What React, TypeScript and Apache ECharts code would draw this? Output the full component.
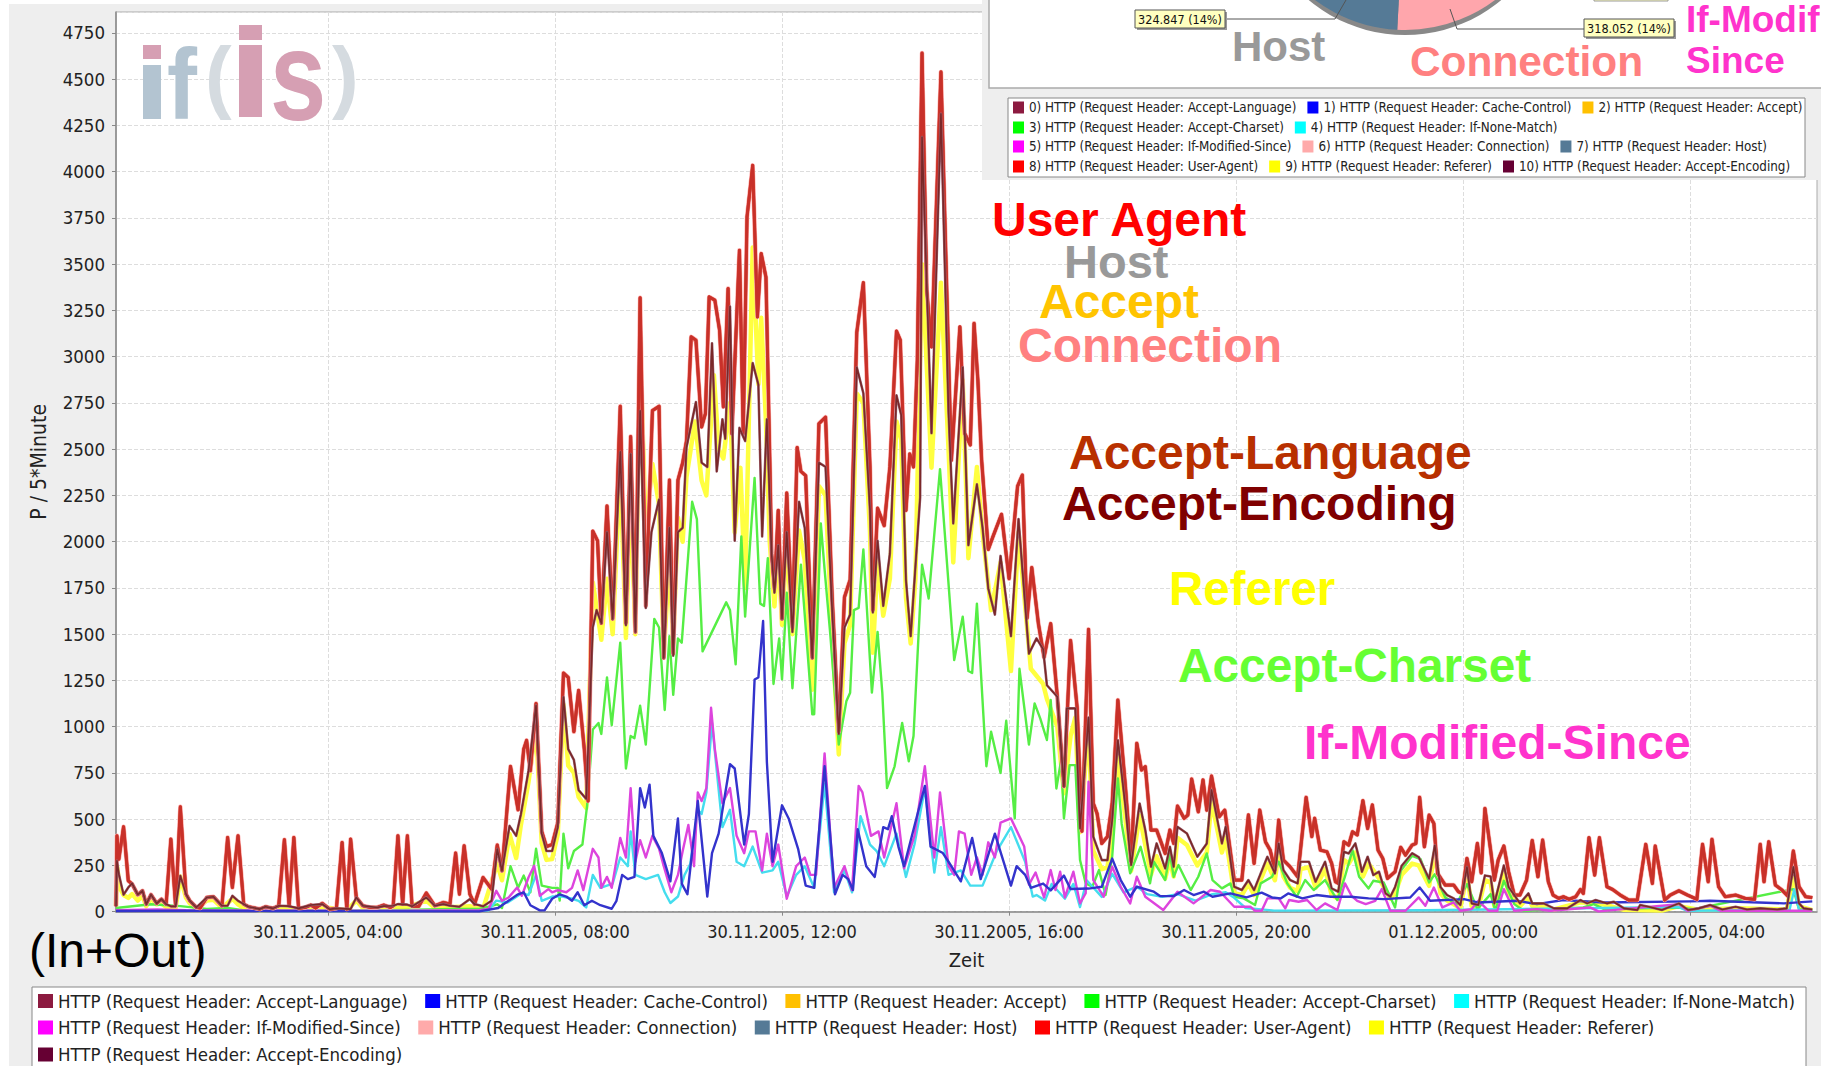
import React, { useEffect, useRef } from "react";
import * as echarts from "echarts";

const FONT = '"DejaVu Sans Condensed", "DejaVu Sans", sans-serif';
const ARIAL = '"Liberation Sans", Arial, sans-serif';

// x values are minutes after 30.11.2005, 00:00
const xTickValues = [240, 480, 720, 960, 1200, 1440, 1680];
const xTickLabels = [
  "30.11.2005, 04:00", "30.11.2005, 08:00", "30.11.2005, 12:00", "30.11.2005, 16:00",
  "30.11.2005, 20:00", "01.12.2005, 00:00", "01.12.2005, 04:00",
];

const topLine = [[16,30],[17,410],[19,284],[24,459],[29,167],[33,150],[39,92],[44,113],[48,41],[53,92],[59,45],[64,68],[69,41],[74,392],[79,32],[84,567],[90,95],[94,59],[101,23],[105,20],[112,77],[119,81],[128,32],[134,401],[139,131],[145,410],[151,41],[156,27],[168,14],[174,27],[182,18],[188,32],[194,389],[199,32],[204,401],[209,18],[216,23],[222,36],[227,20],[234,45],[242,13],[249,18],[255,374],[260,14],[264,392],[270,77],[277,32],[285,23],[292,23],[299,36],[306,23],[309,32],[314,410],[319,41],[324,410],[329,29],[336,29],[344,101],[353,32],[362,50],[369,41],[375,317],[379,95],[384,356],[390,95],[395,41],[404,185],[413,122],[419,360],[424,221],[433,785],[441,551],[447,879],[450,926],[454,762],[460,1125],[466,434],[471,352],[477,363],[483,481],[489,1290],[494,1266],[500,973],[505,1196],[511,879],[515,598],[520,2057],[525,2005],[529,1560],[535,2193],[541,1583],[549,2732],[555,1560],[560,2568],[565,1512],[570,3318],[576,1653],[583,2708],[590,2732],[595,1372],[601,2333],[605,1395],[610,2333],[615,2427],[619,2544],[624,3107],[629,3089],[635,2620],[639,2692],[643,3323],[649,3305],[654,3143],[658,2729],[663,3368],[667,2584],[675,3575],[679,2584],[683,3755],[689,4034],[694,3215],[698,3557],[703,3430],[707,2460],[709,1934],[712,1747],[716,2169],[720,1583],[725,2263],[731,1536],[736,2509],[740,2380],[745,2357],[752,1372],[759,2638],[766,2673],[773,1700],[780,973],[786,1700],[792,1794],[799,3131],[806,3400],[813,2404],[816,1630],[821,2181],[828,2087],[834,2404],[841,3138],[845,3090],[851,2169],[855,2474],[859,2404],[863,2980],[868,4641],[873,3359],[878,3053],[888,4539],[896,2999],[899,2440],[908,3161],[913,2586],[919,2523],[923,3180],[927,2874],[931,2440],[938,1958],[943,2028],[952,2148],[960,1800],[969,2300],[974,2360],[979,1587],[984,1860],[991,1557],[997,1375],[1004,1557],[1011,1162],[1018,677],[1025,1466],[1032,1100],[1037,435],[1044,1526],[1049,586],[1053,531],[1058,369],[1064,406],[1069,586],[1075,1144],[1083,676],[1089,270],[1095,910],[1100,766],[1104,784],[1110,441],[1116,441],[1125,315],[1130,441],[1134,369],[1138,571],[1145,505],[1149,523],[1153,717],[1160,540],[1165,712],[1169,549],[1174,733],[1182,513],[1188,549],[1198,171],[1206,171],[1213,523],[1219,261],[1225,549],[1231,378],[1236,333],[1241,225],[1245,495],[1250,279],[1257,243],[1265,189],[1274,618],[1280,406],[1283,505],[1289,333],[1296,324],[1301,261],[1305,162],[1308,153],[1314,378],[1319,360],[1323,432],[1328,415],[1334,600],[1339,450],[1344,577],[1350,333],[1355,288],[1360,180],[1368,216],[1374,348],[1379,306],[1386,360],[1390,369],[1394,618],[1399,351],[1404,522],[1409,477],[1413,207],[1421,144],[1430,144],[1435,108],[1439,99],[1444,288],[1449,162],[1455,369],[1459,210],[1463,558],[1469,333],[1473,171],[1477,279],[1483,355],[1488,216],[1494,90],[1500,90],[1507,171],[1513,385],[1519,189],[1524,387],[1530,162],[1535,90],[1541,72],[1546,81],[1552,67],[1559,81],[1564,120],[1567,99],[1573,400],[1579,198],[1584,400],[1592,135],[1598,120],[1606,90],[1615,63],[1624,63],[1633,364],[1640,153],[1643,355],[1653,63],[1659,90],[1668,113],[1677,90],[1687,67],[1693,364],[1699,162],[1703,391],[1710,135],[1717,81],[1728,90],[1738,72],[1748,67],[1754,364],[1758,162],[1763,378],[1770,144],[1777,117],[1783,85],[1789,328],[1795,135],[1802,81],[1809,76]];

const encodingLine = [[16,30],[17,275],[19,203],[24,92],[29,131],[33,153],[39,92],[44,113],[48,41],[53,92],[59,45],[64,68],[69,41],[74,29],[79,29],[84,194],[90,95],[94,59],[101,23],[112,77],[119,81],[128,32],[134,32],[139,86],[145,59],[151,41],[156,27],[168,14],[174,27],[182,18],[188,32],[199,30],[209,18],[222,36],[234,41],[242,13],[249,18],[264,14],[270,77],[277,32],[292,23],[299,30],[309,32],[314,41],[324,38],[329,29],[344,77],[353,32],[362,41],[369,32],[379,27],[390,68],[395,41],[404,29],[413,59],[419,338],[424,221],[432,464],[439,410],[444,527],[452,761],[460,1114],[466,422],[471,328],[477,328],[483,457],[489,1160],[494,879],[500,821],[505,657],[513,610],[520,1536],[524,1630],[529,1560],[535,2052],[541,1583],[549,2486],[555,1548],[560,2474],[565,1512],[570,2708],[576,1642],[582,2052],[590,2228],[595,1372],[601,2075],[605,1384],[610,2052],[615,2075],[619,2509],[629,2755],[635,2427],[641,2404],[646,3072],[651,2380],[657,2662],[660,2556],[665,3271],[670,2005],[675,2615],[681,2544],[689,2966],[695,2849],[699,2028],[704,2662],[709,1934],[712,1724],[716,1981],[720,1583],[725,2052],[731,1512],[738,2216],[744,2075],[752,1372],[759,2427],[766,2404],[773,1630],[780,961],[786,1536],[792,1606],[799,2943],[806,2802],[813,2169],[816,1618],[821,2005],[827,1653],[834,1935],[841,2791],[846,2685],[851,1794],[856,1489],[866,2239],[868,4187],[878,2586],[888,4313],[896,2700],[901,2099],[911,2943],[917,1981],[926,2310],[932,2075],[938,1747],[945,1606],[951,1923],[962,1489],[970,2122],[981,1395],[989,1477],[996,1419],[1000,1224],[1011,1162],[1018,677],[1021,1099],[1030,1099],[1035,450],[1044,1050],[1049,405],[1058,279],[1064,279],[1069,495],[1075,927],[1083,567],[1089,252],[1098,585],[1104,441],[1110,243],[1116,369],[1125,234],[1130,351],[1134,243],[1138,459],[1148,423],[1159,297],[1169,369],[1174,657],[1185,369],[1189,459],[1198,135],[1206,117],[1213,171],[1219,117],[1233,297],[1241,207],[1245,369],[1250,225],[1257,171],[1265,153],[1268,270],[1277,270],[1284,162],[1294,270],[1301,126],[1308,108],[1314,324],[1319,315],[1326,369],[1330,288],[1333,216],[1339,297],[1345,198],[1351,216],[1358,99],[1363,81],[1368,133],[1375,248],[1386,316],[1393,295],[1404,178],[1410,358],[1416,133],[1423,90],[1430,72],[1437,36],[1444,241],[1449,45],[1456,36],[1463,196],[1469,190],[1473,45],[1483,250],[1488,133],[1494,90],[1500,45],[1509,99],[1513,45],[1525,45],[1536,18],[1550,18],[1564,63],[1571,45],[1580,63],[1592,45],[1599,54],[1610,18],[1624,9],[1627,36],[1636,27],[1650,9],[1668,45],[1678,9],[1689,18],[1701,36],[1714,12],[1728,27],[1740,12],[1754,18],[1772,12],[1782,18],[1789,241],[1795,45],[1800,18],[1809,12]];

const refererLine = [[16,30],[17,250],[20,130],[24,90],[29,75],[33,95],[39,60],[44,85],[48,30],[53,70],[59,40],[64,45],[69,25],[79,20],[84,190],[90,75],[94,45],[101,15],[112,60],[119,65],[128,20],[139,70],[145,40],[151,20],[168,8],[200,15],[234,25],[260,8],[270,60],[277,20],[309,20],[324,25],[344,60],[353,20],[390,30],[404,15],[419,260],[424,170],[432,420],[439,290],[444,470],[452,700],[460,1000],[466,370],[471,280],[477,285],[483,420],[489,1120],[494,790],[500,750],[505,620],[513,560],[520,1780],[529,1470],[535,1800],[541,1500],[549,2400],[555,1480],[560,2250],[565,1500],[570,3040],[576,2070],[583,2420],[590,2200],[595,1400],[601,1900],[605,1450],[610,2130],[615,2000],[619,2350],[628,2650],[635,2330],[640,2250],[648,2900],[653,2500],[658,2450],[665,2750],[670,2050],[676,2400],[681,1750],[689,3590],[695,2850],[698,3210],[703,2650],[707,2000],[712,1650],[716,1950],[720,1550],[725,2000],[731,1500],[738,2060],[744,1900],[752,1200],[759,2300],[766,2250],[773,1500],[780,850],[786,1450],[792,1550],[799,2800],[806,2750],[813,2050],[816,1400],[821,1900],[827,1600],[834,1800],[841,2650],[846,2550],[851,1700],[856,1450],[861,1800],[868,3500],[878,2400],[888,3400],[896,2500],[901,1888],[911,2873],[917,1911],[926,2404],[932,2050],[941,1630],[951,1888],[962,1301],[970,2052],[983,1313],[996,1231],[1000,1150],[1011,1000],[1018,640],[1025,950],[1030,1050],[1035,430],[1044,1000],[1049,330],[1058,230],[1064,240],[1069,430],[1075,850],[1083,500],[1089,220],[1098,520],[1104,360],[1110,200],[1116,300],[1125,180],[1130,280],[1134,190],[1138,400],[1148,360],[1159,250],[1169,320],[1174,600],[1185,320],[1189,400],[1198,100],[1206,90],[1213,150],[1219,90],[1233,260],[1241,170],[1245,330],[1250,190],[1257,130],[1265,110],[1268,230],[1277,240],[1284,130],[1294,230],[1301,90],[1308,70],[1314,280],[1319,260],[1326,320],[1334,190],[1340,260],[1351,180],[1363,70],[1368,100],[1375,200],[1386,260],[1393,250],[1404,140],[1410,320],[1416,100],[1423,60],[1437,20],[1444,200],[1449,30],[1456,20],[1463,170],[1469,160],[1473,30],[1483,220],[1488,100],[1494,60],[1500,30],[1509,80],[1513,30],[1525,30],[1536,12],[1564,50],[1580,50],[1592,35],[1610,10],[1650,6],[1668,30],[1690,10],[1728,18],[1782,12],[1789,200],[1795,30],[1809,8]];

const charsetLine = [[16,20],[53,40],[84,30],[112,15],[134,20],[150,8],[200,5],[260,6],[320,10],[345,12],[375,15],[400,15],[412,30],[419,40],[424,20],[433,246],[441,130],[447,195],[454,105],[460,340],[466,141],[477,129],[483,129],[485,60],[489,422],[494,234],[500,328],[509,363],[514,575],[520,985],[526,1020],[529,961],[535,1266],[540,1008],[549,1454],[555,774],[560,950],[564,938],[570,1114],[576,903],[585,1583],[590,1536],[596,1090],[601,1489],[605,1172],[610,1477],[614,1454],[625,2216],[630,2122],[636,1407],[661,1672],[665,1630],[671,1337],[677,2028],[681,1595],[691,2345],[697,1665],[701,1653],[705,1911],[711,1231],[717,1477],[720,1255],[725,1724],[731,1208],[740,1876],[752,1067],[754,1067],[761,2099],[765,1850],[771,1500],[780,903],[788,1137],[792,1184],[796,1630],[801,1642],[806,1958],[815,1184],[821,1512],[826,1184],[831,668],[839,786],[847,1020],[854,813],[859,950],[868,1875],[875,1693],[887,2392],[902,1360],[911,1595],[917,1301],[921,1290],[926,1665],[936,786],[941,973],[951,750],[957,1032],[966,504],[971,1313],[981,903],[987,1126],[993,1044],[1000,928],[1004,1144],[1010,666],[1015,819],[1018,504],[1024,792],[1030,792],[1035,279],[1041,153],[1048,135],[1055,225],[1062,90],[1069,297],[1075,720],[1079,477],[1088,207],[1099,351],[1109,153],[1113,270],[1125,171],[1130,315],[1134,189],[1139,252],[1152,117],[1160,189],[1169,315],[1175,171],[1185,126],[1194,153],[1198,81],[1208,72],[1220,36],[1226,153],[1238,189],[1245,270],[1254,153],[1264,81],[1273,171],[1282,117],[1294,171],[1307,63],[1315,189],[1323,333],[1330,189],[1340,126],[1345,167],[1356,158],[1368,23],[1374,221],[1386,302],[1395,284],[1404,158],[1410,203],[1421,77],[1433,41],[1444,149],[1455,14],[1469,95],[1474,5],[1483,167],[1494,41],[1504,5],[1567,23],[1578,41],[1589,14],[1666,23],[1684,14],[1789,122],[1795,14],[1809,5]];

const modifiedLine = [[16,8],[60,12],[90,8],[264,5],[320,6],[400,8],[410,15],[418,113],[424,59],[431,77],[440,131],[445,86],[452,185],[458,248],[464,86],[473,122],[477,105],[483,117],[492,105],[498,129],[504,223],[510,117],[520,340],[526,293],[529,129],[535,188],[540,129],[549,399],[555,293],[560,668],[565,270],[570,387],[576,293],[583,410],[590,340],[595,246],[603,105],[610,199],[615,328],[621,469],[627,246],[631,645],[635,598],[640,668],[645,1102],[649,879],[657,586],[665,668],[672,410],[680,316],[685,434],[692,434],[699,223],[704,422],[710,246],[716,363],[725,70],[735,246],[744,293],[750,199],[756,199],[765,856],[775,129],[786,246],[794,117],[801,680],[805,645],[814,410],[822,434],[828,293],[841,586],[849,234],[860,410],[871,786],[881,293],[887,645],[896,246],[902,199],[907,434],[913,422],[920,199],[926,293],[932,199],[938,375],[945,293],[951,481],[962,504],[976,352],[981,146],[988,212],[997,77],[1004,225],[1009,117],[1014,216],[1019,77],[1028,216],[1035,45],[1041,100],[1044,702],[1049,171],[1060,81],[1069,243],[1078,135],[1088,45],[1095,189],[1104,81],[1123,9],[1138,108],[1155,45],[1173,117],[1183,108],[1198,27],[1215,27],[1220,5],[1227,5],[1233,72],[1245,72],[1252,18],[1256,63],[1266,54],[1275,63],[1285,9],[1294,45],[1307,9],[1315,153],[1322,86],[1328,59],[1337,41],[1347,59],[1354,122],[1363,5],[1379,5],[1393,77],[1400,32],[1409,131],[1418,23],[1430,50],[1437,5],[1449,14],[1456,59],[1467,5],[1476,5],[1483,122],[1494,5],[1518,14],[1532,5],[1574,23],[1583,2],[1668,41],[1677,5],[1701,32],[1712,5],[1786,5],[1809,5]];

const noneMatchLine = [[16,5],[200,4],[360,5],[400,5],[410,8],[418,60],[430,50],[445,100],[452,90],[460,199],[466,59],[477,82],[488,82],[498,70],[505,59],[513,23],[520,199],[528,129],[535,141],[541,152],[549,293],[557,246],[560,434],[565,199],[576,176],[589,199],[596,105],[602,47],[610,82],[617,199],[623,258],[631,551],[635,528],[640,645],[646,1020],[651,762],[657,457],[665,551],[672,270],[680,246],[689,352],[699,211],[710,223],[716,270],[725,82],[735,199],[744,246],[754,129],[765,692],[775,105],[786,223],[794,105],[803,516],[813,363],[820,328],[828,246],[841,422],[851,188],[860,363],[871,668],[881,211],[888,457],[896,199],[909,223],[919,141],[932,141],[947,328],[962,457],[977,270],[985,82],[989,90],[998,60],[1005,150],[1019,70],[1028,150],[1035,25],[1042,170],[1058,80],[1069,205],[1081,105],[1095,135],[1106,95],[1122,80],[1138,95],[1157,60],[1175,95],[1189,105],[1198,75],[1210,20],[1240,6],[1400,8],[1668,25],[1677,5],[1785,10],[1790,120],[1795,10],[1809,5]];

const cacheLine = [[16,4],[100,5],[250,3],[400,2],[420,20],[424,35],[441,94],[447,105],[454,35],[464,7],[469,7],[477,70],[485,94],[492,82],[498,59],[504,105],[511,35],[519,59],[528,35],[540,16],[545,59],[551,199],[557,176],[564,188],[570,668],[575,563],[580,687],[584,410],[593,317],[602,164],[610,504],[614,152],[620,94],[631,598],[641,82],[646,317],[653,422],[665,797],[670,774],[680,363],[685,528],[691,1255],[695,1266],[700,1571],[704,809],[710,270],[720,575],[727,504],[737,340],[745,141],[754,129],[765,786],[776,94],[784,199],[790,176],[795,117],[800,446],[809,246],[818,188],[827,457],[832,446],[836,516],[843,352],[849,246],[862,504],[871,680],[877,352],[890,317],[896,270],[909,164],[921,399],[930,176],[945,422],[962,141],[968,246],[977,199],[983,129],[996,152],[1004,115],[1018,195],[1025,123],[1044,125],[1058,135],[1069,287],[1078,171],[1088,81],[1095,135],[1113,108],[1120,84],[1134,84],[1145,117],[1155,90],[1166,108],[1175,81],[1194,99],[1211,77],[1227,103],[1238,77],[1247,72],[1255,99],[1270,72],[1285,90],[1300,81],[1321,81],[1340,72],[1356,68],[1384,77],[1394,131],[1405,59],[1441,68],[1455,50],[1497,59],[1518,41],[1546,63],[1588,50],[1680,56],[1701,59],[1779,45],[1809,56]];

const pieValues = [318.052, 324.847, 1677.1];
const pieLabels = ["318.052 (14%)", "324.847 (14%)"];

const H = "HTTP (Request Header: ";
const names = {
  lang: H + "Accept-Language)", cache: H + "Cache-Control)", accept: H + "Accept)", charset: H + "Accept-Charset)",
  none: H + "If-None-Match)", modified: H + "If-Modified-Since)", conn: H + "Connection)", host: H + "Host)",
  agent: H + "User-Agent)", ref: H + "Referer)", enc: H + "Accept-Encoding)",
};
const legendColors = {
  lang: "#8C1A40", cache: "#0000FF", accept: "#FFC000", charset: "#00FF00", none: "#00FFFF", modified: "#FF00FF",
  conn: "#FFAAAA", host: "#557A96", agent: "#FF0000", ref: "#FFFF00", enc: "#660033",
};
const numbering = ["lang", "cache", "accept", "charset", "none", "modified", "conn", "host", "agent", "ref", "enc"];
const bottomRows = [["lang", "cache", "accept", "charset", "none"], ["modified", "conn", "host", "agent", "ref"], ["enc"]];
const insetRows = [["lang", "cache", "accept"], ["charset", "none"], ["modified", "conn", "host"], ["agent", "ref", "enc"]];

const annotations = [
  { t: "User Agent", x: 992, y: 219, c: "#FF0000", s: 48 },
  { t: "Host", x: 1064, y: 261, c: "#999999", s: 47 },
  { t: "Accept", x: 1039, y: 301, c: "#FFC400", s: 48 },
  { t: "Connection", x: 1018, y: 345, c: "#FF8080", s: 48 },
  { t: "Accept-Language", x: 1069, y: 452, c: "#B83000", s: 48 },
  { t: "Accept-Encoding", x: 1062, y: 503, c: "#800000", s: 48 },
  { t: "Referer", x: 1169, y: 588, c: "#FFFF00", s: 47.5 },
  { t: "Accept-Charset", x: 1178, y: 665, c: "#66FF33", s: 47.8 },
  { t: "If-Modified-Since", x: 1304, y: 742, c: "#FF33CC", s: 48 },
  { t: "Host", x: 1232, y: 46, c: "#999999", s: 42 },
  { t: "Connection", x: 1410, y: 61, c: "#FF8080", s: 42.4 },
  { t: "If-Modif", x: 1686, y: 19, c: "#FF33CC", s: 37 },
  { t: "Since", x: 1686, y: 60, c: "#FF33CC", s: 37 },
];

function line(nameKey, data, color, width, z, opacity = 1) {
  return {
    type: "line", name: names[nameKey], data, symbol: "none", showSymbol: false, z, silent: true,
    lineStyle: { color, width, opacity, join: "round" }, itemStyle: { color: legendColors[nameKey] },
  };
}

function buildGraphic() {
  const g = [];
  g.push({ type: "rect", shape: { x: 0, y: 0, width: 9, height: 1066 }, style: { fill: "#fff" }, z: 1 });
  g.push({ type: "rect", shape: { x: 0, y: 0, width: 1821, height: 4 }, style: { fill: "#fff" }, z: 1 });
  // watermark logo
  const logo = (t, x, y, s, c, sx = 1) => g.push({ type: "text", x, y, scaleX: sx, z: 1, style: { text: t, fill: c, font: `bold ${s}px ${ARIAL}`, textAlign: "left", textVerticalAlign: "middle" } });
  g.push({ type: "rect", shape: { x: 143, y: 65, width: 18, height: 54 }, style: { fill: "#B3C4D1" }, z: 1 });
  g.push({ type: "rect", shape: { x: 143, y: 45, width: 18, height: 14 }, style: { fill: "#D69FB3" }, z: 1 });
  logo("f", 167, 84, 100, "#B3C4D1", 0.9);
  logo("(", 205, 75, 80, "#D5DBE0", 1.0);
  g.push({ type: "rect", shape: { x: 239, y: 45, width: 23, height: 72 }, style: { fill: "#D69FB3" }, z: 1 });
  g.push({ type: "rect", shape: { x: 239, y: 25, width: 23, height: 15 }, style: { fill: "#D69FB3" }, z: 1 });
  logo("s", 270, 76, 128, "#D69FB3", 0.79);
  logo(")", 332, 75, 80, "#D5DBE0", 1.0);
  // inset panel
  g.push({ type: "rect", shape: { x: 982, y: 0, width: 839, height: 180 }, style: { fill: "#EEEEEE" }, z: 5 });
  g.push({ type: "rect", shape: { x: 989, y: -4, width: 836, height: 92 }, style: { fill: "#fff", stroke: "#AAAAAA", lineWidth: 1.5 }, z: 5 });
  g.push({ type: "rect", shape: { x: 1008, y: 98, width: 797, height: 79 }, style: { fill: "#fff", stroke: "#888888", lineWidth: 1 }, z: 5 });
  g.push({ type: "rect", shape: { x: 1594, y: -10, width: 74, height: 11 }, style: { fill: "#FFFFC0", stroke: "#999", lineWidth: 1 }, z: 6 });
  g.push({ type: "circle", shape: { cx: 1405, cy: -115, r: 150 }, style: { fill: "#888888" }, z: 6 });
  g.push({ type: "polyline", shape: { points: [[1346, 0], [1335, 19], [1225, 19]] }, style: { stroke: "#555", fill: "none", lineWidth: 1 }, z: 8 });
  g.push({ type: "polyline", shape: { points: [[1450, 9], [1457, 29], [1584, 29]] }, style: { stroke: "#555", fill: "none", lineWidth: 1 }, z: 8 });
  const tag = (t, x, y) => {
    g.push({ type: "rect", shape: { x: x + 2, y: y + 2, width: 90, height: 18 }, style: { fill: "#999" }, z: 8 });
    g.push({ type: "rect", shape: { x, y, width: 90, height: 18 }, style: { fill: "#FFFFC0", stroke: "#555", lineWidth: 1 }, z: 8 });
    g.push({ type: "text", x: x + 45, y: y + 9, z: 9, style: { text: t, fill: "#111", font: `12.5px ${FONT}`, textAlign: "center", textVerticalAlign: "middle" } });
  };
  tag(pieLabels[1], 1135, 10);
  tag(pieLabels[0], 1584, 19);
  // bottom legend box
  g.push({ type: "rect", shape: { x: 32, y: 987, width: 1774, height: 90 }, style: { fill: "#fff", stroke: "#888888", lineWidth: 1 }, z: 5 });
  // overlaid annotations
  annotations.forEach((a) => g.push({ type: "text", x: a.x, y: a.y, z: 12, style: { text: a.t, fill: a.c, font: `bold ${a.s}px ${ARIAL}`, textAlign: "left", textVerticalAlign: "middle" } }));
  g.push({ type: "text", x: 29, y: 950, z: 12, style: { text: "(In+Out)", fill: "#000", font: `48px ${ARIAL}`, textAlign: "left", textVerticalAlign: "middle" } });
  return g;
}

const bottomTops = [991.5, 1018, 1045];
const insetTops = [101, 121, 140, 160];

export default function App() {
  const ref = useRef(null);
  useEffect(() => {
    const chart = echarts.init(ref.current, null, { renderer: "svg" });
    const legends = [];
    bottomRows.forEach((row, i) => legends.push({
      left: 38, top: bottomTops[i], orient: "horizontal", z: 10, selectedMode: false, icon: "rect",
      itemWidth: 15, itemHeight: 14, itemGap: 17.5, padding: 0,
      textStyle: { fontFamily: FONT, fontSize: 18.5, color: "#222" },
      data: row.map((k) => ({ name: names[k], icon: "rect", itemStyle: { color: legendColors[k] } })),
    }));
    const prefix = {};
    numbering.forEach((k, i) => { prefix[names[k]] = `${i}) `; });
    insetRows.forEach((row, i) => legends.push({
      left: 1013, top: insetTops[i], orient: "horizontal", z: 10, selectedMode: false, icon: "rect",
      itemWidth: 11, itemHeight: 12, itemGap: 11, padding: 0,
      formatter: (n) => prefix[n] + n,
      textStyle: { fontFamily: FONT, fontSize: 13.3, color: "#222" },
      data: row.map((k) => ({ name: names[k], icon: "rect", itemStyle: { color: legendColors[k] } })),
    }));
    chart.setOption({
      animation: false,
      backgroundColor: "#EEEEEE",
      textStyle: { fontFamily: FONT },
      grid: { left: 116, right: 4, top: 12, bottom: 154.3, show: true, backgroundColor: "#fff", borderColor: "#AAAAAA", borderWidth: 1 },
      xAxis: {
        type: "value", min: 16, max: 1814, name: "Zeit", nameLocation: "middle", nameGap: 38,
        nameTextStyle: { fontFamily: FONT, fontSize: 20, color: "#222" },
        axisLine: { onZero: false, lineStyle: { color: "#888", width: 1.5 } },
        axisTick: { length: 4, customValues: xTickValues, lineStyle: { color: "#888" } },
        axisLabel: { customValues: xTickValues, fontFamily: FONT, fontSize: 18, color: "#222", margin: 11, formatter: (v) => xTickLabels[xTickValues.indexOf(v)] ?? "" },
        splitLine: { show: true, lineStyle: { color: "#DDDDDD", type: "dashed", width: 1 } },
      },
      yAxis: {
        type: "value", min: 0, max: 4863, interval: 250, name: "P / 5*Minute", nameLocation: "middle", nameGap: 67,
        nameTextStyle: { fontFamily: FONT, fontSize: 21, color: "#222" },
        axisLine: { show: true, lineStyle: { color: "#888", width: 1.5 } },
        axisTick: { show: true, length: 4, lineStyle: { color: "#888" } },
        axisLabel: { fontFamily: FONT, fontSize: 18.5, color: "#222", margin: 11, showMaxLabel: false, formatter: (v) => String(v) },
        splitLine: { show: true, lineStyle: { color: "#DDDDDD", type: "dashed", width: 1 } },
      },
      legend: legends,
      series: [
        line("ref", refererLine, "#FFFF40", 4.5, 2),
        line("charset", charsetLine, "#55EE44", 2.4, 3),
        line("none", noneMatchLine, "#44DDEE", 2.4, 3),
        line("modified", modifiedLine, "#DD44DD", 2.4, 3),
        line("cache", cacheLine, "#3333CC", 2.4, 4),
        line("conn", topLine, "#FFAAAA", 4.5, 4),
        line("host", topLine, "#C85050", 3.2, 4),
        line("accept", topLine, "#D84020", 2.8, 4),
        line("agent", topLine, "#C8302A", 2.6, 4),
        line("lang", encodingLine, "#A06878", 2.6, 5),
        line("enc", encodingLine, "#7A2828", 1.6, 5),
        {
          type: "pie", center: [1405, -120], radius: 150, startAngle: -43.6, z: 7, silent: true,
          label: { show: false }, labelLine: { show: false },
          data: [
            { name: "Connection", value: pieValues[0], itemStyle: { color: "#FFA6AC" } },
            { name: "Host", value: pieValues[1], itemStyle: { color: "#557A96" } },
            { name: "Other", value: pieValues[2], itemStyle: { color: "#888888" } },
          ],
        },
      ],
      graphic: buildGraphic(),
    });
    return () => chart.dispose();
  }, []);
  return <div ref={ref} style={{ position: "absolute", left: 0, top: 0, width: 1821, height: 1066, overflow: "hidden" }} />;
}
